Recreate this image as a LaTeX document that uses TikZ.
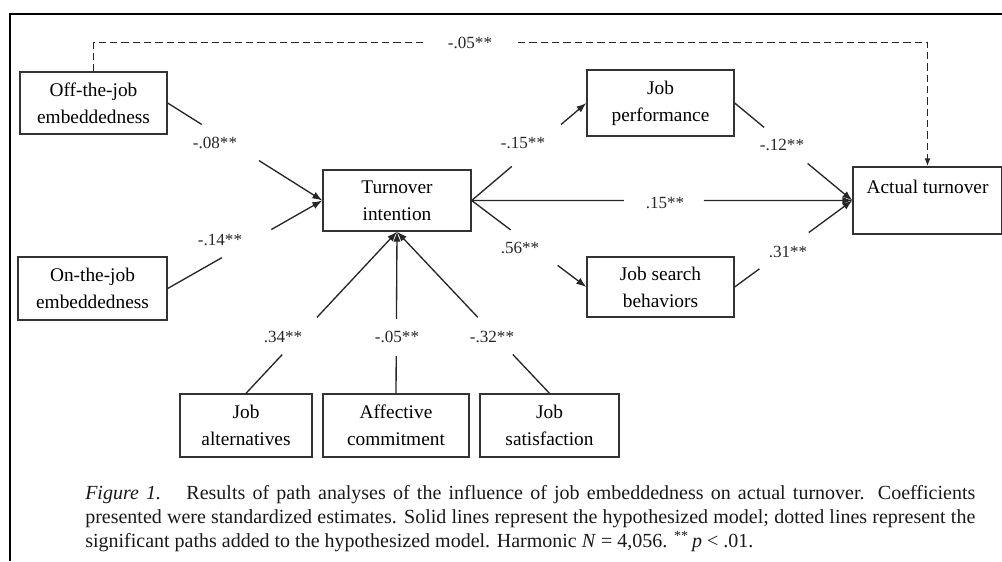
\documentclass[tikz,border=0pt]{standalone}
\usepackage{fontspec}
\setmainfont{Liberation Serif}
\usetikzlibrary{arrows.meta,calc}
\begin{document}
\begin{tikzpicture}[x=0.75pt,y=-0.75pt,
  box/.style={draw=black!80,line width=1pt,align=center,inner sep=0pt,
    font=\fontsize{14.5}{20.3}\selectfont},
  coef/.style={font=\fontsize{12.8}{14}\selectfont,inner sep=1pt,text=black!85},
  link/.style={draw=black!85,line width=1pt},
  tip/.style={-{Latex[length=7.5pt,width=5.5pt]}},
  dlink/.style={link,line width=1.2pt,dash pattern=on 5.5pt off 3pt},
]
\useasboundingbox (0,0) rectangle (1002,561);
% page frame
\draw[line width=1.6pt] (10,561) -- (10,14) -- (1002,14);

% boxes
\node[box,minimum width=110.25pt,minimum height=46.5pt]  (off)  at (93.5,103)   {Off-the-job\\embeddedness};
\node[box,minimum width=111.75pt,minimum height=47.25pt] (on)   at (92.5,288.5) {On-the-job\\embeddedness};
\node[box,minimum width=111pt,minimum height=45.75pt]    (ti)   at (397,200.5)  {Turnover\\intention};
\node[box,minimum width=110.25pt,minimum height=49.5pt]  (jp)   at (660.5,103)  {Job\\performance};
\node[box,minimum width=110.25pt,minimum height=45pt]    (js)   at (660.5,287)  {Job search\\behaviors};
\node[box,minimum width=111.75pt,minimum height=50.25pt] (at)   at (927.5,200.5){Actual turnover\\\phantom{x}};
\node[box,minimum width=99pt,minimum height=47.25pt]     (ja)   at (246,425.5)  {Job\\alternatives};
\node[box,minimum width=109.5pt,minimum height=47.25pt]  (ac)   at (396,425.5)  {Affective\\commitment};
\node[box,minimum width=104.25pt,minimum height=47.25pt] (jsat) at (549.5,425.5){Job\\satisfaction};

% added path (dashed)
\draw[dlink,-{Latex[length=6pt,width=4.5pt]}] (off.north) -- ++(0,-29) -| (at.north);
\node[coef,fill=white,minimum width=68pt] (c0) at (470,43) {-.05**};

% solid paths, each broken where its coefficient sits
\draw[link] (off.east) -- ($(off.east)!0.22!(ti.west)$);
\draw[link,tip] ($(off.east)!0.59!(ti.west)$) -- (ti.west);
\node[coef] (c1) at (215,143) {-.08**};

\draw[link] (on.east) -- ($(on.east)!0.35!(ti.west)$);
\draw[link,tip] ($(on.east)!0.67!(ti.west)$) -- (ti.west);
\node[coef] (c2) at (220,240) {-.14**};

\draw[link] (ti.east) -- ($(ti.east)!0.35!(jp.west)$);
\draw[link,tip] ($(ti.east)!0.78!(jp.west)$) -- (jp.west);
\node[coef] (c3) at (523,143) {-.15**};

\draw[link] (ti.east) -- ($(ti.east)!0.40!(at.west)$);
\draw[link,tip] ($(ti.east)!0.61!(at.west)$) -- (at.west);
\node[coef] (c4) at (665,203) {.15**};

\draw[link] (ti.east) -- ($(ti.east)!0.34!(js.west)$);
\draw[link,tip] ($(ti.east)!0.75!(js.west)$) -- (js.west);
\node[coef] (c5) at (520,248) {.56**};

\draw[link] (jp.east) -- ($(jp.east)!0.25!(at.west)$);
\draw[link,tip] ($(jp.east)!0.62!(at.west)$) -- (at.west);
\node[coef] (c6) at (782,145) {-.12**};

\draw[link] (js.east) -- ($(js.east)!0.21!(at.west)$);
\draw[link,tip] ($(js.east)!0.63!(at.west)$) -- (at.west);
\node[coef] (c7) at (788,252) {.31**};

\draw[link] (ja.north) -- ($(ja.north)!0.24!(ti.south)$);
\draw[link,tip] ($(ja.north)!0.47!(ti.south)$) -- (ti.south);
\node[coef] (c8) at (283,337) {.34**};

\draw[link] (ac.north) -- ($(ac.north)!0.23!(ti.south)$);
\draw[link,tip] ($(ac.north)!0.46!(ti.south)$) -- (ti.south);
\node[coef] (c9) at (397,337) {-.05**};

\draw[link] (jsat.north) -- ($(jsat.north)!0.24!(ti.south)$);
\draw[link,tip] ($(jsat.north)!0.47!(ti.south)$) -- (ti.south);
\node[coef] (c10) at (492,337) {-.32**};

% caption
\node[anchor=north west,text width=667.5pt,align=justify,inner sep=0pt,
  font=\fontsize{15}{18}\selectfont,text=black!90] (cap) at (85,485)
  {\textit{Figure 1.}\hspace{0.6em} Results of path analyses of the influence of job embeddedness on actual turnover. Coefficients\linebreak
   presented were standardized estimates. Solid lines represent the hypothesized model; dotted lines represent the\linebreak
   significant paths added to the hypothesized model. Harmonic \textit{N} = 4,056. \textsuperscript{**}\,\textit{p} < .01.};
\end{tikzpicture}
\end{document}
